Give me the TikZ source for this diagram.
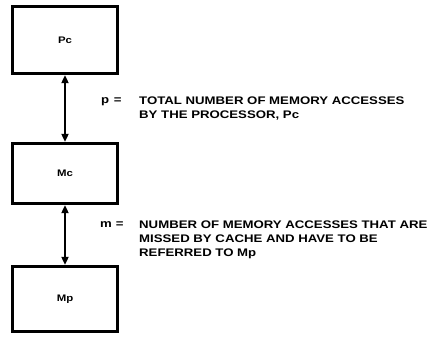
\documentclass[tikz,border=0pt]{standalone}
\usepackage{fontspec}
\setmainfont{Liberation Sans}
\newfontfamily\widefont[FakeStretch=1.2]{Liberation Sans}
\usetikzlibrary{arrows.meta}
\begin{document}
\begin{tikzpicture}[x=1pt,y=-1pt,
  blk/.style={draw,line width=3.2pt,minimum width=105pt,font=\widefont\bfseries\fontsize{9.5}{11}\selectfont},
  conn/.style={line width=1.7pt,{Triangle[length=8pt,width=7pt]}-{Triangle[length=8pt,width=7pt]}},
  lbl/.style={font=\widefont\bfseries\fontsize{11}{14}\selectfont,anchor=north west,align=left,inner sep=0pt}]
\useasboundingbox (0,0) rectangle (431,343);
\node[blk,minimum height=67pt] (pc) at (65,40) {Pc};
\node[blk,minimum height=60pt] (mc) at (65,173.5) {Mc};
\node[blk,minimum height=65pt] (mp) at (65,299) {Mp};
\draw[conn] (pc.south) -- (mc.north);
\draw[conn] (mc.south) -- (mp.north);
\node[lbl] (peq) at (101,97) {p\hspace{4.5pt}=};
\node[lbl] (ptext) at (139,97) {TOTAL NUMBER OF MEMORY ACCESSES\\BY THE PROCESSOR, Pc};
\node[lbl] (meq) at (100,221) {m\hspace{4pt}=};
\node[lbl] (mtext) at (139,221) {NUMBER OF MEMORY ACCESSES THAT ARE\\MISSED BY CACHE AND HAVE TO BE\\REFERRED TO Mp};
\end{tikzpicture}
\end{document}
